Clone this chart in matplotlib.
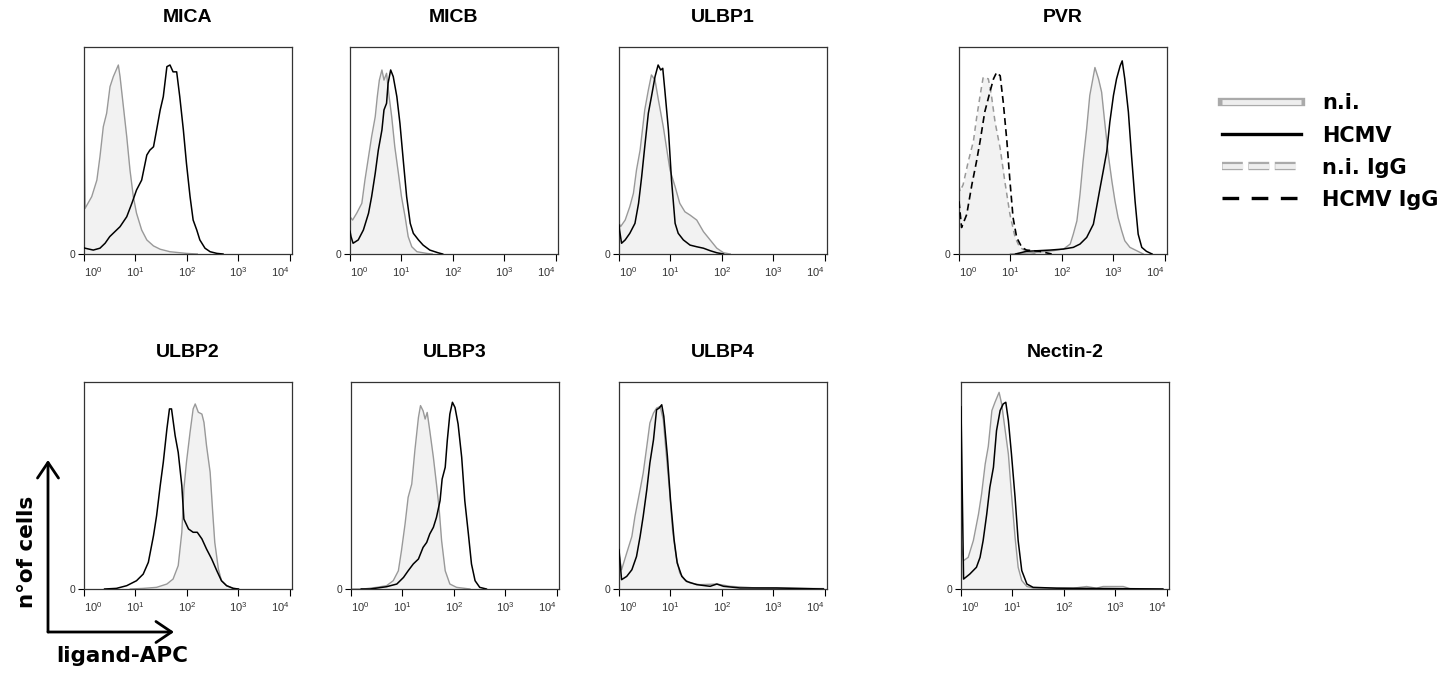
import numpy as np
import matplotlib
matplotlib.use("Agg")
import matplotlib.pyplot as plt
from matplotlib.lines import Line2D
from matplotlib.patches import FancyArrowPatch
from matplotlib.ticker import LogLocator, NullFormatter

plt.rcParams['font.family'] = ['Liberation Sans', 'DejaVu Sans']
plt.rcParams['lines.scale_dashes'] = False

# histogram traces: x in log10(ligand-APC), y in % of the panel height
MICA_NI_X = [0.0, 0.02, 0.15, 0.25, 0.31, 0.375, 0.44, 0.505, 0.57, 0.667, 0.70, 0.765, 0.83, 0.893, 0.958, 1.02, 1.12, 1.22, 1.35, 1.48, 1.67, 1.99, 2.2]
MICA_NI_Y = [72, 22, 27.7, 35.7, 47, 61.5, 68, 80.8, 85.7, 91.3, 85.7, 71.2, 56.7, 40.6, 27.7, 19.7, 11.6, 6.8, 3.9, 2.3, 1.1, 0.3, 0]
MICA_HCMV_X = [0.0, 0.02, 0.18, 0.31, 0.41, 0.50, 0.60, 0.70, 0.83, 0.93, 1.02, 1.12, 1.22, 1.28, 1.35, 1.41, 1.48, 1.54, 1.61, 1.67, 1.73, 1.80, 1.86, 1.93, 1.99, 2.06, 2.12, 2.19, 2.25, 2.35, 2.45, 2.58, 2.7]
MICA_HCMV_Y = [3, 2.8, 1.9, 2.8, 5.2, 8.4, 10.8, 13.2, 18, 24.5, 30.9, 35.7, 47.8, 50.2, 51.8, 59.9, 69.6, 76, 90.5, 91.3, 88, 88, 76, 59.9, 43.8, 27.7, 16.4, 11.6, 6.8, 2.8, 1.1, 0.3, 0]

MICB_NI_X = [0.0, 0.05, 0.13, 0.23, 0.29, 0.36, 0.42, 0.49, 0.53, 0.57, 0.62, 0.66, 0.71, 0.76, 0.81, 0.87, 0.94, 1.00, 1.07, 1.13, 1.20, 1.30, 1.49, 1.6]
MICB_NI_Y = [18, 16.4, 19.7, 24.5, 35.7, 47, 56.7, 66.3, 76, 84, 88.9, 84, 87.3, 76, 66.3, 51.8, 39, 27.7, 18, 8.4, 3.5, 1.1, 0.3, 0]
MICB_HCMV_X = [0.0, 0.02, 0.06, 0.16, 0.26, 0.36, 0.42, 0.49, 0.55, 0.62, 0.66, 0.71, 0.74, 0.79, 0.84, 0.91, 0.97, 1.04, 1.10, 1.17, 1.23, 1.33, 1.42, 1.55, 1.71, 1.8]
MICB_HCMV_Y = [11, 8.4, 5.2, 6.8, 11.6, 19.7, 27.7, 39, 50.2, 59.9, 69.6, 72.8, 82.5, 88.9, 85.7, 76, 63.1, 43.8, 27.7, 14.8, 10, 6.8, 4.3, 1.9, 0.6, 0]

ULBP1_NI_X = [0.0, 0.03, 0.12, 0.21, 0.28, 0.34, 0.41, 0.50, 0.57, 0.63, 0.70, 0.76, 0.86, 0.93, 0.99, 1.09, 1.18, 1.28, 1.38, 1.51, 1.64, 1.77, 1.90, 2.03, 2.16]
ULBP1_NI_Y = [15, 13.2, 16.4, 22.9, 29.3, 40.6, 50.2, 69.6, 79.2, 86.5, 84, 75.2, 61.5, 50.2, 40.6, 32.5, 24.5, 20.4, 18.8, 16.4, 10.8, 6.8, 2.8, 0.6, 0]
ULBP1_HCMV_X = [0.0, 0.01, 0.05, 0.12, 0.21, 0.31, 0.38, 0.44, 0.50, 0.57, 0.63, 0.70, 0.76, 0.81, 0.85, 0.89, 0.96, 1.02, 1.09, 1.15, 1.25, 1.38, 1.51, 1.64, 1.77, 1.90, 2.03]
ULBP1_HCMV_Y = [14, 11.6, 5.2, 6.8, 10, 14.8, 24.5, 37.3, 51.8, 68, 76, 85.7, 91.3, 88.9, 89.7, 79.2, 59.9, 35.7, 14.8, 10, 6.8, 4.3, 3.5, 2.8, 1.6, 0.6, 0]

PVR_NI_X = [1.0, 1.5, 1.83, 2.03, 2.16, 2.22, 2.29, 2.35, 2.41, 2.48, 2.54, 2.60, 2.64, 2.71, 2.77, 2.83, 2.90, 2.97, 3.03, 3.09, 3.16, 3.22, 3.32, 3.45, 3.58]
PVR_NI_Y = [0, 0.8, 1.6, 2.4, 4.8, 9.6, 16, 28.7, 44.7, 60.6, 76.6, 84.6, 90.1, 84.6, 78.2, 63.8, 47.8, 35.1, 25.5, 17.6, 11.2, 6.4, 3.2, 1.6, 0]
PVR_HCMV_X = [1.1, 1.31, 1.77, 2.03, 2.22, 2.35, 2.48, 2.61, 2.67, 2.74, 2.80, 2.87, 2.93, 3.00, 3.06, 3.13, 3.17, 3.22, 3.29, 3.35, 3.42, 3.48, 3.55, 3.64, 3.75]
PVR_HCMV_Y = [0, 1.3, 1.9, 2.4, 3.2, 4.8, 8, 14.4, 22.3, 31.9, 39.9, 49.5, 63.8, 76.6, 84.6, 90.9, 93.3, 84.6, 68.6, 47.8, 25.5, 9.6, 3.2, 1.3, 0]
PVR_NI_IGG_X = [0.0, 0.02, 0.08, 0.18, 0.28, 0.34, 0.41, 0.47, 0.57, 0.63, 0.70, 0.80, 0.89, 0.99, 1.09, 1.18, 1.31, 1.5]
PVR_NI_IGG_Y = [33, 30.3, 33.5, 44.7, 54.5, 65.4, 76.6, 85.4, 84.6, 76.6, 63.8, 51, 35.1, 19.1, 8, 3.2, 1.3, 0]
PVR_HCMV_IGG_X = [0.0, 0.05, 0.15, 0.25, 0.34, 0.41, 0.50, 0.60, 0.67, 0.73, 0.80, 0.86, 0.93, 0.99, 1.05, 1.12, 1.22, 1.31, 1.57, 1.8]
PVR_HCMV_IGG_Y = [25.5, 12.8, 19.1, 33.5, 44.7, 54.5, 68.6, 78.2, 84.6, 87.7, 86.1, 73.2, 54.5, 35.1, 17.6, 8, 3.2, 1.9, 1.3, 0]

ULBP2_NI_X = [0.9, 1.15, 1.41, 1.61, 1.73, 1.83, 1.90, 1.94, 1.99, 2.06, 2.12, 2.16, 2.22, 2.29, 2.33, 2.38, 2.45, 2.50, 2.54, 2.61, 2.67, 2.77, 2.90, 3.0]
ULBP2_NI_Y = [0, 0.3, 0.8, 2.4, 4.8, 11.3, 27.4, 48.3, 61.2, 75.7, 87, 89.4, 85.4, 84.5, 80.5, 69.2, 56.4, 37, 22.5, 9.7, 4, 1.6, 0.3, 0]
ULBP2_HCMV_X = [0.4, 0.63, 0.83, 1.02, 1.15, 1.25, 1.35, 1.41, 1.48, 1.54, 1.61, 1.66, 1.70, 1.77, 1.83, 1.90, 1.94, 2.03, 2.12, 2.20, 2.29, 2.38, 2.48, 2.58, 2.67, 2.77, 2.90, 3.0]
ULBP2_HCMV_Y = [0, 0.3, 1.6, 4, 7.2, 12.9, 25.8, 35.4, 49.9, 61.2, 77.3, 87, 87, 74.1, 66, 49.9, 33.8, 29, 27.4, 27.4, 24.2, 19.3, 14.5, 8.8, 4, 1.6, 0.3, 0]

ULBP3_NI_X = [0.0, 0.24, 0.50, 0.69, 0.82, 0.92, 0.98, 1.05, 1.11, 1.18, 1.24, 1.31, 1.35, 1.40, 1.44, 1.48, 1.53, 1.60, 1.66, 1.71, 1.76, 1.83, 1.92, 2.05, 2.31]
ULBP3_NI_Y = [0, 0, 0.8, 1.6, 4, 8.8, 18.5, 31.4, 44.3, 50.7, 66.8, 82.9, 88.6, 86.1, 82.1, 85.3, 76.5, 63.6, 50.7, 39.4, 23.3, 8.8, 2.4, 0.8, 0]
ULBP3_HCMV_X = [0.2, 0.37, 0.69, 0.89, 1.02, 1.11, 1.21, 1.31, 1.40, 1.47, 1.53, 1.60, 1.66, 1.73, 1.77, 1.83, 1.87, 1.92, 1.97, 2.02, 2.08, 2.15, 2.21, 2.28, 2.34, 2.41, 2.50, 2.63]
ULBP3_HCMV_Y = [0, 0, 1.1, 2.4, 5.6, 8.8, 12.1, 14.5, 20.1, 22.5, 26.6, 29.8, 34.6, 42.7, 53.1, 58.8, 71.7, 84.5, 90.2, 87.7, 79.7, 63.6, 42.7, 26.6, 12.1, 4, 0.8, 0]

ULBP4_NI_X = [0.0, 0.05, 0.15, 0.25, 0.31, 0.41, 0.47, 0.54, 0.60, 0.67, 0.73, 0.80, 0.86, 0.91, 0.98, 1.04, 1.11, 1.18, 1.28, 1.38, 1.57, 1.90, 2.16, 2.67, 3.97]
ULBP4_NI_Y = [17, 9.3, 17.4, 25.4, 35.1, 48, 56, 68.9, 80.2, 85, 87.4, 88.2, 81.8, 67.3, 48, 28.6, 15.7, 7.7, 4.5, 2.9, 2.1, 2.4, 1.3, 0.5, 0.2]
ULBP4_HCMV_X = [0.0, 0.05, 0.15, 0.25, 0.34, 0.41, 0.47, 0.54, 0.60, 0.67, 0.73, 0.78, 0.83, 0.87, 0.94, 1.00, 1.07, 1.13, 1.22, 1.31, 1.51, 1.77, 1.90, 2.03, 2.35, 3.06, 3.97]
ULBP4_HCMV_Y = [19, 4.5, 6.1, 9.3, 15.7, 25.4, 35.1, 48, 60.9, 72.1, 86.6, 87.4, 89, 83.4, 64.1, 43.1, 23.8, 12.6, 6.1, 3.7, 2.1, 1.3, 2.4, 1.3, 0.5, 0.5, 0]

NECTIN_NI_X = [0.0, 0.05, 0.14, 0.24, 0.34, 0.40, 0.47, 0.53, 0.60, 0.66, 0.74, 0.79, 0.85, 0.92, 0.98, 1.05, 1.11, 1.18, 1.28, 1.40, 2.18, 2.44, 2.63, 2.76, 3.15, 3.28, 3.92]
NECTIN_NI_Y = [23, 13.7, 15.3, 23.4, 36.2, 45.9, 60.4, 68.9, 86.2, 90.2, 95, 89.4, 78.1, 65.2, 45.9, 25, 10.5, 4.1, 1.2, 0.5, 0.4, 1.2, 0.4, 1.2, 1.2, 0.2, 0]
NECTIN_HCMV_X = [0.0, 0.05, 0.17, 0.30, 0.37, 0.43, 0.50, 0.56, 0.63, 0.69, 0.76, 0.82, 0.87, 0.92, 0.98, 1.05, 1.11, 1.18, 1.28, 1.40, 1.86, 3.92]
NECTIN_HCMV_Y = [88, 4.8, 7.2, 10.5, 15.3, 23.4, 36.2, 49.1, 58.8, 76.5, 86.2, 89.4, 90.2, 81.4, 65.2, 44.3, 23.4, 8.9, 2.4, 0.8, 0.4, 0]

PANELS = ["MICA", "MICB", "ULBP1", "PVR", "ULBP2", "ULBP3", "ULBP4", "Nectin-2"]
DECADE_LABELS = [r"$\mathregular{10^{0}}$", r"$\mathregular{10^{1}}$", r"$\mathregular{10^{2}}$",
                 r"$\mathregular{10^{3}}$", r"$\mathregular{10^{4}}$"]
LEGEND_LABELS = ["n.i.", "HCMV", "n.i. IgG", "HCMV IgG"]

traces = {
    "MICA": (MICA_NI_X, MICA_NI_Y, MICA_HCMV_X, MICA_HCMV_Y),
    "MICB": (MICB_NI_X, MICB_NI_Y, MICB_HCMV_X, MICB_HCMV_Y),
    "ULBP1": (ULBP1_NI_X, ULBP1_NI_Y, ULBP1_HCMV_X, ULBP1_HCMV_Y),
    "PVR": (PVR_NI_X, PVR_NI_Y, PVR_HCMV_X, PVR_HCMV_Y),
    "ULBP2": (ULBP2_NI_X, ULBP2_NI_Y, ULBP2_HCMV_X, ULBP2_HCMV_Y),
    "ULBP3": (ULBP3_NI_X, ULBP3_NI_Y, ULBP3_HCMV_X, ULBP3_HCMV_Y),
    "ULBP4": (ULBP4_NI_X, ULBP4_NI_Y, ULBP4_HCMV_X, ULBP4_HCMV_Y),
    "Nectin-2": (NECTIN_NI_X, NECTIN_NI_Y, NECTIN_HCMV_X, NECTIN_HCMV_Y),
}

W, H = 1454, 673
fig = plt.figure(figsize=(W / 100, H / 100), dpi=100)

# panel boxes in pixels: left edges per row, baseline y, size
lefts = [[84, 350, 619, 959], [84, 351, 619, 961]]
baselines = [254, 589]
pw, ph = 208, 207

GRAY_FILL = '#f2f2f2'
GRAY_LINE = '#999999'


def hist(ax, xs, ys, color, ls='-', lw=1.0, fill=False):
    xv = 10 ** np.array(xs)
    if fill:
        ax.fill_between(xv, ys, 0, color=GRAY_FILL, lw=0, zorder=1)
    ax.plot(xv, ys, color=color, ls=ls, lw=lw, zorder=3 if color == 'black' else 2)


for i, name in enumerate(PANELS):
    r, c = divmod(i, 4)
    ax = fig.add_axes([lefts[r][c] / W, 1 - baselines[r] / H, pw / W, ph / H])
    ni_x, ni_y, hc_x, hc_y = traces[name]
    if name == "PVR":
        hist(ax, PVR_NI_IGG_X, PVR_NI_IGG_Y, GRAY_LINE, ls=(0, (4, 3)), lw=1.1, fill=True)
        hist(ax, PVR_HCMV_IGG_X, PVR_HCMV_IGG_Y, 'black', ls=(0, (5, 3)), lw=1.2)
    hist(ax, ni_x, ni_y, GRAY_LINE, fill=True)
    hist(ax, hc_x, hc_y, 'black', lw=1.1)

    ax.set_xscale('log')
    ax.set_xlim(1, 10 ** 4.04)
    ax.set_ylim(0, 100)
    ax.set_xticks([1, 10, 100, 1000, 10000])
    ax.set_xticklabels(DECADE_LABELS, fontsize=8, color='#333333')
    tl = ax.get_xticklabels()
    tl[0].set_ha('left')
    tl[-1].set_ha('right')
    ax.xaxis.set_minor_locator(LogLocator(base=10, subs=range(2, 10)))
    ax.xaxis.set_minor_formatter(NullFormatter())
    ax.tick_params(axis='x', which='major', length=5, width=0.8, pad=3)
    ax.tick_params(axis='x', which='minor', length=3, width=0.6)
    ax.set_yticks([0])
    ax.set_yticklabels(['0'], fontsize=7.5, color='#333333')
    ax.tick_params(axis='y', length=4, width=0.8, pad=2)
    for s in ax.spines.values():
        s.set_color('#333333')
        s.set_linewidth(0.9)
    ax.set_title(name, fontsize=14, fontweight='bold', pad=18)

# axis arrows bottom-left
ax0 = (48 / W, 1 - 632 / H)
arrow_style = '->,head_length=0.4,head_width=0.27'
fig.add_artist(FancyArrowPatch(ax0, (48 / W, 1 - 460 / H), transform=fig.transFigure,
                               arrowstyle=arrow_style, mutation_scale=28,
                               lw=2, color='black', shrinkA=0, shrinkB=0))
fig.add_artist(FancyArrowPatch(ax0, (174 / W, 1 - 632 / H), transform=fig.transFigure,
                               arrowstyle=arrow_style, mutation_scale=28,
                               lw=2, color='black', shrinkA=0, shrinkB=0))
fig.text(27 / W, 1 - 552 / H, 'n°of cells', rotation=90, ha='center', va='center',
         fontsize=15.5, fontweight='bold', family='DejaVu Sans')
fig.text(122 / W, 1 - 656 / H, 'ligand-APC', ha='center', va='center',
         fontsize=15.5, fontweight='bold', family='DejaVu Sans')

# legend
h_ni = (Line2D([], [], color='#aaaaaa', lw=6, solid_capstyle='projecting'),
        Line2D([], [], color='#eeeeee', lw=3.5, solid_capstyle='butt'))
h_hc = Line2D([], [], color='black', lw=2.4)
h_ni_igg = (Line2D([], [], color='#aaaaaa', lw=6, ls=(0, (15, 4)), dash_capstyle='butt'),
            Line2D([], [], color='#eeeeee', lw=3.5, ls=(0, (15, 4)), dash_capstyle='butt'))
h_hc_igg = Line2D([], [], color='black', lw=2.4, ls=(0, (12, 9)), dash_capstyle='butt')
fig.legend([h_ni, h_hc, h_ni_igg, h_hc_igg], LEGEND_LABELS, loc='upper left',
           bbox_to_anchor=(1212 / W, 1 - 83 / H), frameon=False,
           prop={'family': 'DejaVu Sans', 'weight': 'bold', 'size': 15},
           handlelength=3.75, handletextpad=1.05, labelspacing=0.58, borderpad=0)

fig.savefig('out.png', dpi=100)
